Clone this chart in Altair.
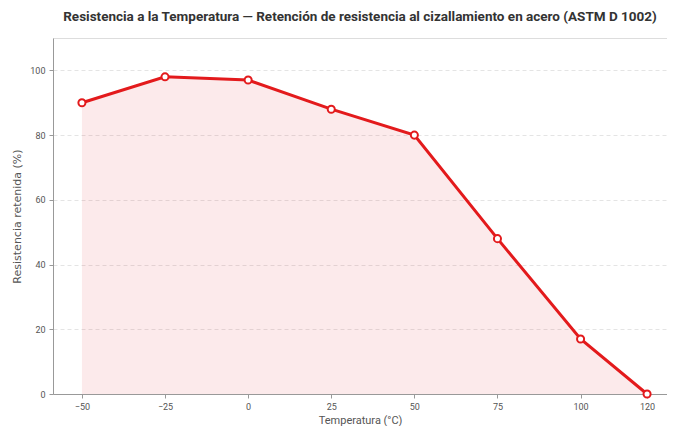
import altair as alt
import pandas as pd

temps = [-50, -25, 0, 25, 50, 75, 100, 120]
retained = [90, 98, 97, 88, 80, 48, 17, 0]
x_ticks = [-50, -25, 0, 25, 50, 75, 100, 120]
y_ticks = [0, 20, 40, 60, 80, 100]

df = pd.DataFrame({"temp": temps, "ret": retained})

FONT = "Roboto"
RED = "#e31a1c"

x = alt.X("temp:Q", scale=alt.Scale(domain=[-58.7, 126.0], nice=False, zero=False),
          axis=alt.Axis(values=x_ticks, title="Temperatura (°C)", grid=False,
                        labelFont=FONT, titleFont=FONT, labelFontSize=9, titleFontSize=11,
                        labelColor="#555", titleColor="#555", titleFontWeight="normal",
                        domainColor="#999", tickColor="#999", tickSize=4, labelPadding=4,
                        titlePadding=3))
y = alt.Y("ret:Q", scale=alt.Scale(domain=[0, 110], nice=False),
          axis=alt.Axis(values=y_ticks, title="Resistencia retenida (%)",
                        labelFont=FONT, labelFontSize=9, titleFont="DejaVu Sans", titleFontSize=11,
                        labelColor="#555", titleColor="#555", titleFontWeight="normal",
                        domainColor="#999", tickColor="#999", tickSize=4, labelPadding=4,
                        gridColor="#e4e4e4", gridDash=[4, 3], titlePadding=7))

area = alt.Chart(df).mark_area(color=RED, opacity=0.09).encode(x=x, y=y)
line = alt.Chart(df).mark_line(color=RED, strokeWidth=3).encode(x=x, y=y)
pts = alt.Chart(df).mark_point(filled=True, fill="white", stroke=RED, strokeWidth=2,
                               size=50, opacity=1).encode(x=x, y=y)

chart = (area + line + pts).properties(
    width=614, height=356,
    title=alt.TitleParams("Resistencia a la Temperatura — Retención de resistencia al cizallamiento en acero (ASTM D 1002)",
                          font=FONT, fontSize=13.5, fontWeight="bold", color="#333",
                          anchor="middle", offset=15),
    autosize=alt.AutoSizeParams(type="none"),
    padding={"left": 45, "top": 30, "right": 0, "bottom": 32},
).configure_view(stroke=None).configure(background="white")

chart.save("out.html", embed_options={"renderer": "svg", "actions": False})
